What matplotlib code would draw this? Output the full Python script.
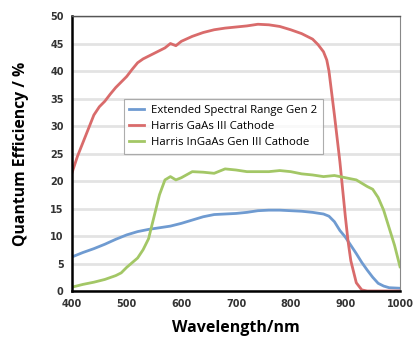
import matplotlib.pyplot as plt

# Extended Spectral Range Gen 2
wl_blue = [400, 420, 440, 460, 480, 500, 520, 540, 560, 580, 600, 620, 640, 660, 680, 700,
           720, 740, 760, 780, 800, 820, 840, 860, 870, 880, 890, 900, 910, 920, 930, 940,
           950, 960, 970, 980, 1000]
qe_blue = [6.2, 7.0, 7.7, 8.5, 9.4, 10.2, 10.8, 11.2, 11.5, 11.8, 12.3, 12.9, 13.5, 13.9, 14.0, 14.1,
           14.3, 14.6, 14.7, 14.7, 14.6, 14.5, 14.3, 14.0, 13.6, 12.6, 11.0, 9.8, 8.3, 6.8, 5.2, 3.8,
           2.5, 1.4, 0.9, 0.6, 0.5]

# Harris GaAs III Cathode
wl_red = [400, 410, 420, 430, 440, 450, 460, 470, 480, 490, 500, 510, 520, 530, 540, 550, 560,
          570, 580, 590, 600, 620, 640, 660, 680, 700, 720, 740, 760, 780, 800, 820, 840, 850,
          860, 866, 870, 875, 880, 890, 900, 905, 910, 920, 930, 940, 1000]
qe_red = [21.5, 24.5, 27, 29.5, 32, 33.5, 34.5, 35.8, 37, 38, 39, 40.3, 41.5, 42.2, 42.7, 43.2, 43.7,
          44.2, 45.0, 44.6, 45.4, 46.3, 47.0, 47.5, 47.8, 48.0, 48.2, 48.5, 48.4, 48.1, 47.5, 46.8, 45.8, 44.8,
          43.5, 42, 40, 36, 32, 23.5, 13.5, 9, 5.5, 1.5, 0.2, 0, 0]

# Harris InGaAs Gen III Cathode
wl_green = [400, 420, 440, 460, 480, 490, 500, 520, 530, 540, 545, 550, 560, 570, 580, 590, 600,
            620, 640, 660, 680, 700, 720, 740, 760, 780, 800, 820, 840, 860, 880, 900, 920, 940,
            950, 960, 970, 980, 990, 1000]
qe_green = [0.7, 1.2, 1.6, 2.1, 2.8, 3.3, 4.3, 6.0, 7.5, 9.5, 11.5, 13.5, 17.5, 20.2, 20.8, 20.2, 20.6,
            21.7, 21.6, 21.4, 22.2, 22.0, 21.7, 21.7, 21.7, 21.9, 21.7, 21.3, 21.1, 20.8, 21.0, 20.6, 20.2, 19.0,
            18.5, 17.0, 14.7, 11.5, 8.3, 4.4]

labels = ['Extended Spectral Range Gen 2', 'Harris GaAs III Cathode', 'Harris InGaAs Gen III Cathode']
xticks = [400, 500, 600, 700, 800, 900, 1000]
yticks = [0, 5, 10, 15, 20, 25, 30, 35, 40, 45, 50]

fig = plt.figure(figsize=(4.17, 3.37), dpi=100)
ax = fig.add_axes([0.1727, 0.1365, 0.7866, 0.816])

ax.plot(wl_blue, qe_blue, color='#6f9bd1', lw=2, label=labels[0])
ax.plot(wl_red, qe_red, color='#d96b6b', lw=2, label=labels[1])
ax.plot(wl_green, qe_green, color='#a3c766', lw=2, label=labels[2])

ax.set_xlim(400, 1000)
ax.set_ylim(0, 50)
ax.set_xticks(xticks)
ax.set_yticks(yticks)
ax.tick_params(length=0, labelsize=7, labelcolor='#333333', pad=6)
for t in ax.get_xticklabels() + ax.get_yticklabels():
    t.set_fontweight('bold')
ax.grid(axis='y', color='#e3e3e3', lw=2)
ax.set_axisbelow(True)

ax.spines['left'].set_linewidth(1.8)
ax.spines['bottom'].set_linewidth(1.8)
ax.spines['top'].set_color('#555555')
ax.spines['right'].set_color('#888888')
ax.spines['top'].set_linewidth(1.0)
ax.spines['right'].set_linewidth(0.8)

ax.set_xlabel('Wavelength/nm', fontsize=11.5, fontweight='bold', family='Open Sans', labelpad=8)
ax.set_ylabel('Quantum Efficiency / %', fontsize=11.3, fontweight='bold', family='Open Sans', labelpad=15)

leg = ax.legend(loc='upper left', bbox_to_anchor=(0.14, 0.718), frameon=True,
                fancybox=False, handlelength=1.3, borderpad=0.5, labelspacing=0.45,
                handletextpad=0.6, prop={'family': 'Open Sans', 'size': 8.2})
leg.get_frame().set_edgecolor('#999999')
leg.get_frame().set_linewidth(0.8)

fig.savefig('out.png', dpi=100)
